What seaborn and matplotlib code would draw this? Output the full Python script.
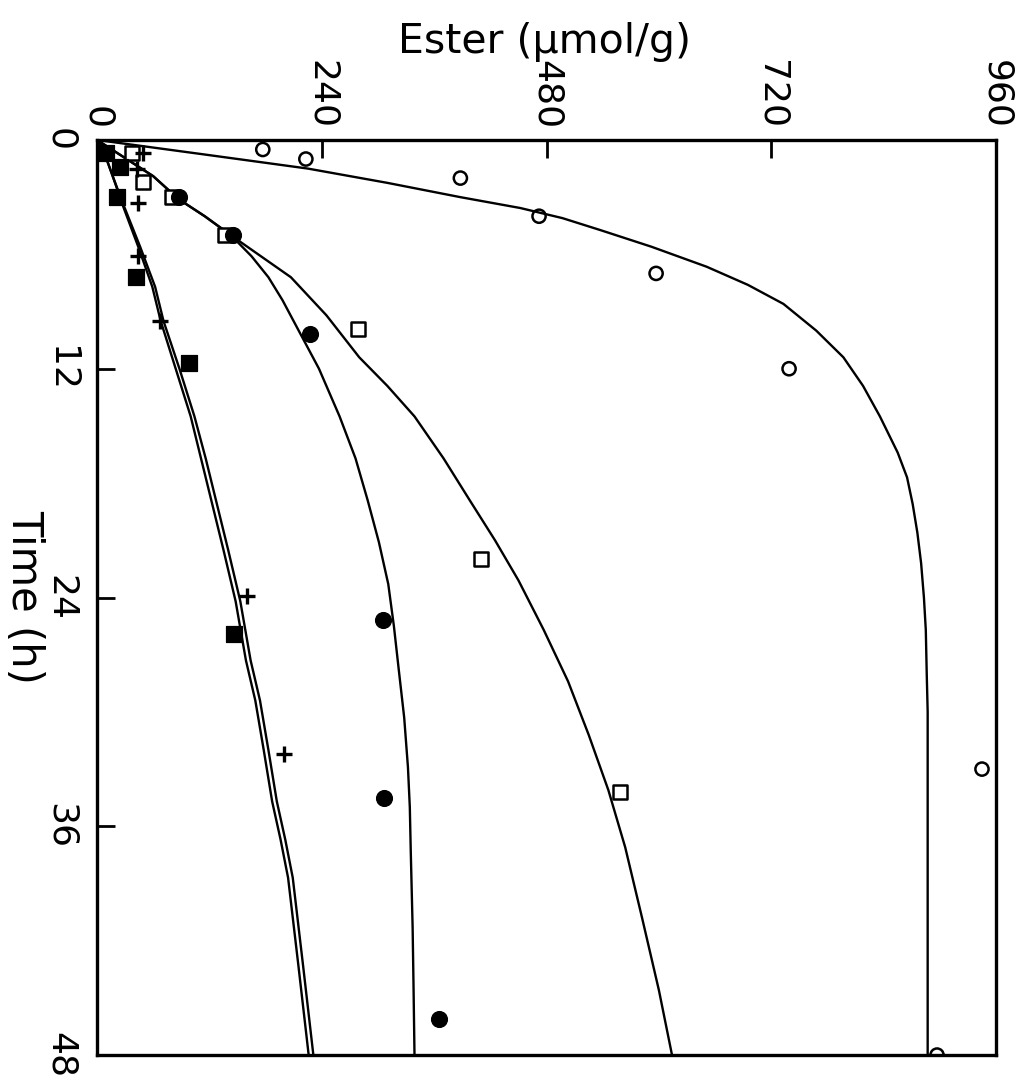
import matplotlib
matplotlib.use("Agg")
import matplotlib.pyplot as plt
import seaborn as sns

# measured points (ester in umol/g, time in h)
circ_t = [0.5, 1.0, 2.0, 4.0, 7.0, 12.0, 33.0, 48.0]
circ_e = [177, 223, 388, 472, 597, 739, 945, 897]

sq_t = [0.7, 2.2, 3.0, 5.0, 9.9, 22.0, 34.2]
sq_e = [37, 49, 80, 137, 279, 410, 558]

fcirc_t = [3.0, 5.0, 10.2, 25.2, 34.5, 46.1]
fcirc_e = [87, 145, 227, 305, 306, 365]

fsq_t = [0.7, 1.4, 3.0, 7.2, 11.7, 25.9]
fsq_e = [10, 24, 21, 42, 98, 146]

plus_t = [0.7, 1.5, 3.3, 6.1, 9.5, 23.9, 32.2]
plus_e = [49, 43, 44, 44, 67, 160, 200]

# fitted curves
fit_circ_t = [0, 0.75, 1.5, 2.25, 3.0, 3.57, 4.1, 4.72, 5.6, 6.65, 7.6, 8.6, 10.0,
              11.4, 12.9, 14.5, 16.4, 17.7, 19.1, 20.6, 22.2, 24.0, 25.7, 28.0, 30.0, 48.0]
fit_circ_e = [0, 113, 225, 310, 388, 452, 497, 537, 592, 651, 695, 733, 768,
              797, 818, 836, 855, 865, 871, 876, 880, 883, 885, 886, 887, 887]

fit_sq_t = [0, 0.95, 1.9, 3.1, 4.0, 5.0, 6.1, 7.2, 9.2, 11.4, 12.9, 14.5, 16.7, 18.9,
            21.0, 23.1, 25.7, 28.4, 31.2, 34.1, 37.1, 40.8, 44.6, 48.0]
fit_sq_e = [0, 30, 60, 87, 115, 143, 175, 207, 245, 280, 310, 339, 370, 398,
            425, 450, 477, 503, 525, 546, 564, 582, 600, 614]

fit_fcirc_t = [0, 0.95, 1.9, 3.1, 4.0, 5.0, 6.1, 7.2, 8.4, 9.6, 12.0, 14.5, 16.7, 18.9,
               21.1, 23.3, 25.5, 27.7, 30.3, 32.9, 35.0, 37.3, 41.3, 44.5, 48.0]
fit_fcirc_e = [0, 30, 60, 87, 115, 143, 165, 183, 198, 211, 237, 259, 276, 289,
               301, 311, 317, 322, 328, 332, 334, 335, 337, 338, 339]

fit_a_t = [0, 0.3, 1.8, 3.5, 5.6, 7.7, 9.5, 12.0, 14.5, 16.7, 18.9, 21.5, 24.2, 27.3,
           29.4, 32.0, 34.7, 36.7, 38.7, 43.3, 48.0]
fit_a_e = [0, 5, 16, 28, 44, 59, 68, 84, 100, 111, 122, 135, 148, 159,
           169, 178, 187, 196, 204, 215, 226]

fit_b_t = [0, 0.3, 1.8, 3.5, 5.6, 7.7, 9.5, 12.0, 14.5, 16.7, 18.9, 21.5, 24.2, 27.3,
           29.4, 32.0, 34.7, 36.7, 38.7, 43.3, 48.0]
fit_b_e = [0, 5, 16, 29, 46, 62, 71, 88, 104, 116, 127, 140, 153, 164,
           174, 183, 192, 201, 209, 220, 231]

ester_ticks = [0, 240, 480, 720, 960]
time_ticks = [0, 12, 24, 36, 48]

sns.set_style("white")
plt.rcParams['font.family'] = ['DejaVu Sans']
plt.rcParams['text.color'] = 'black'
plt.rcParams['xtick.color'] = 'black'
plt.rcParams['ytick.color'] = 'black'

fig = plt.figure(figsize=(10.28, 10.85), dpi=100)
ax = fig.add_axes([0.0944, 0.0276, 0.8745, 0.8434])

for fx, fy in [(fit_circ_e, fit_circ_t), (fit_sq_e, fit_sq_t), (fit_fcirc_e, fit_fcirc_t),
               (fit_a_e, fit_a_t), (fit_b_e, fit_b_t)]:
    sns.lineplot(x=fx, y=fy, sort=False, estimator=None, color='black', lw=1.7, ax=ax)

sns.scatterplot(x=circ_e, y=circ_t, marker='o', s=90, facecolor='none',
                edgecolor='black', linewidth=1.8, ax=ax, zorder=3)
sns.scatterplot(x=sq_e, y=sq_t, marker='s', s=100, facecolor='white',
                edgecolor='black', linewidth=1.8, ax=ax, zorder=3)
sns.scatterplot(x=fcirc_e, y=fcirc_t, marker='o', s=130, color='black',
                edgecolor='black', ax=ax, zorder=3)
sns.scatterplot(x=fsq_e, y=fsq_t, marker='s', s=120, color='black',
                edgecolor='black', ax=ax, zorder=3)
sns.scatterplot(x=plus_e, y=plus_t, marker='+', s=140, color='black',
                linewidth=2.4, ax=ax, zorder=3)

ax.set_xlim(0, 960)
ax.set_ylim(48, 0)
ax.xaxis.tick_top()
ax.set_xticks(ester_ticks)
ax.set_yticks(time_ticks)
ax.set_xticklabels([str(v) for v in ester_ticks], rotation=-90, ha='center', va='bottom')
ax.set_yticklabels([str(v) for v in time_ticks], rotation=-90, ha='right', va='center')
ax.tick_params(axis='x', top=True, bottom=False, direction='in', length=13, width=2,
               labelsize=26, pad=8)
ax.tick_params(axis='y', left=True, right=False, direction='in', length=13, width=2,
               labelsize=26, pad=14)
ax.set_xlabel('')
ax.set_ylabel('')
for sp in ax.spines.values():
    sp.set_visible(True)
    sp.set_color('black')
    sp.set_linewidth(2.4)

fig.text(0.53, 1 - 42 / 1085, 'Ester (µmol/g)', ha='center', va='center', fontsize=29.5)
fig.text(24 / 1028, 1 - 597 / 1085, 'Time (h)', ha='center', va='center',
         rotation=-90, fontsize=30)

fig.savefig('out.png', dpi=100)
